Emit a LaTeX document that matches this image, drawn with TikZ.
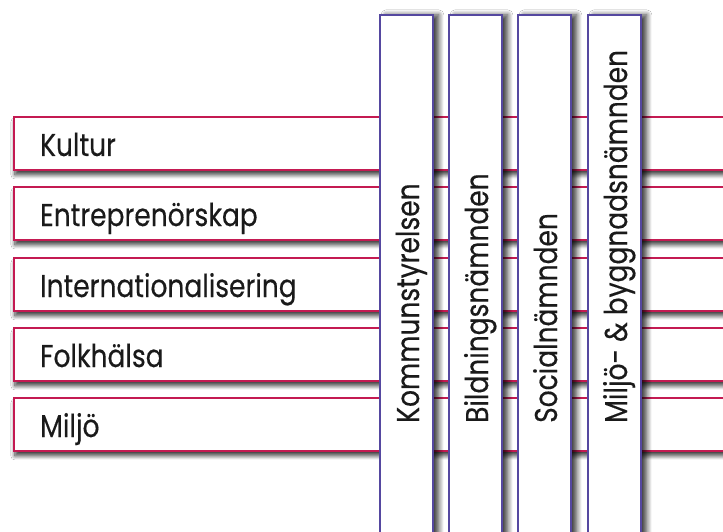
\documentclass[tikz,border=0pt]{standalone}
\usepackage{fontspec}
\setmainfont{Poppins}[FakeStretch=0.84, FakeBold=0.3]
\usetikzlibrary{shadows.blur}

\definecolor{themered}{HTML}{C41A52}
\definecolor{boardblue}{HTML}{5548A0}
\definecolor{labelgray}{HTML}{1A1A1A}

\tikzset{
  themebar/.style={draw=themered, line width=1.8pt, fill=white,
    anchor=north west, inner sep=0pt,
    minimum width=760pt, minimum height=53pt,
    blur shadow={shadow xshift=1pt, shadow yshift=-5pt,
      shadow blur radius=4pt, shadow blur steps=10, shadow opacity=75}},
  boardbar/.style={draw=boardblue, line width=1.8pt, fill=white,
    anchor=north west, inner sep=0pt,
    minimum width=53pt, minimum height=560pt,
    blur shadow={shadow xshift=6pt, shadow yshift=0pt,
      shadow blur radius=5pt, shadow blur steps=10, shadow opacity=75}},
  barlabel/.style={anchor=base west, inner sep=0pt, text=labelgray,
    font=\fontsize{31.5}{34}\selectfont},
  boardlabel/.style={barlabel, rotate=90},
}

\begin{document}
\begin{tikzpicture}[x=1pt, y=-1pt]
  \useasboundingbox (0,0) rectangle (723,532);
  \fill[white] (0,0) rectangle (723,532);
  \clip (0,0) rectangle (723,532);

  % horizontal theme bars
  \foreach \name/\txt/\top in
    {kultur/Kultur/116, entre/Entreprenörskap/186,
     inter/Internationalisering/257, folk/Folkhälsa/327, miljo/Miljö/397}{
    \node[themebar] (\name) at (13,\top) {};
    \node[barlabel] (\name-label) at (40,\top+40) {\txt};
  }

  % vertical board bars, drawn over the theme bars
  \foreach \name/\txt/\left in
    {ks/Kommunstyrelsen/379, bn/Bildningsnämnden/448, sn/Socialnämnden/517,
     mbn/Miljö- \& byggnadsnämnden/587}{
    \node[boardbar] (\name) at (\left,14) {};
    \node[boardlabel] (\name-label) at (\left+40,423) {\txt};
  }
\end{tikzpicture}
\end{document}
